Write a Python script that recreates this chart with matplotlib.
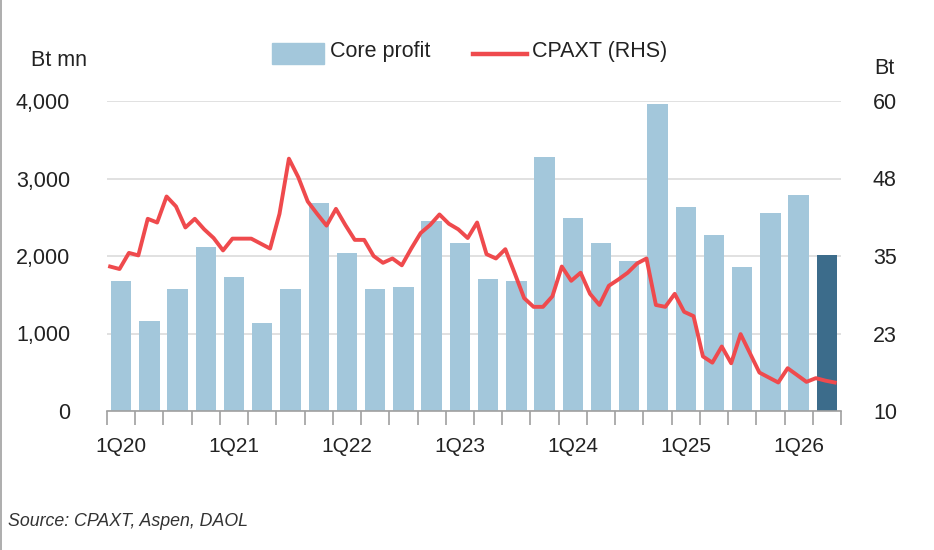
import matplotlib
matplotlib.use("Agg")
import matplotlib.pyplot as plt
from matplotlib.lines import Line2D
from matplotlib.patches import Rectangle
import numpy as np

plt.rcParams['font.family'] = ['Liberation Sans', 'DejaVu Sans']

quarters = ["1Q20", "2Q20", "3Q20", "4Q20", "1Q21", "2Q21", "3Q21", "4Q21",
            "1Q22", "2Q22", "3Q22", "4Q22", "1Q23", "2Q23", "3Q23", "4Q23",
            "1Q24", "2Q24", "3Q24", "4Q24", "1Q25", "2Q25", "3Q25", "4Q25",
            "1Q26", "2Q26"]
core_profit = [1680, 1160, 1575, 2115, 1730, 1135, 1575, 2685,
               2040, 1575, 1600, 2450, 2170, 1705, 1680, 3275,
               2490, 2170, 1935, 3960, 2630, 2270, 1860, 2555,
               2790, 2015]
# Monthly CPAXT share price (Bt), 3 points per quarter
cpaxt = [33.3, 32.9, 35.5, 35.1, 41.0, 40.4, 44.6, 43.0, 39.6, 41.0,
         39.3, 37.9, 35.9, 37.8, 37.8, 37.8, 37.0, 36.2, 41.8, 50.7,
         47.7, 43.8, 41.8, 39.9, 42.6, 40.0, 37.6, 37.6, 35.0, 33.9,
         34.6, 33.5, 36.2, 38.7, 40.0, 41.7, 40.2, 39.3, 37.9, 40.4,
         35.3, 34.6, 36.1, 32.2, 28.2, 26.8, 26.8, 28.5, 33.3, 31.0,
         32.3, 28.9, 27.1, 30.2, 31.2, 32.3, 33.8, 34.6, 27.1, 26.8,
         28.9, 26.0, 25.3, 18.8, 17.8, 20.4, 17.7, 22.4, 19.3, 16.2,
         15.4, 14.6, 16.9, 15.8, 14.7, 15.3, 14.9, 14.6]
left_ticks = [0, 1000, 2000, 3000, 4000]
right_ticks = [10, 22.5, 35, 47.5, 60]
right_labels = ["10", "23", "35", "48", "60"]
legend_labels = ["Core profit", "CPAXT (RHS)"]

light = "#A3C7DB"
dark = "#3C6C8B"
red = "#EF4A4D"
txt = "#222222"
FS = 15.5

W, H = 934, 550
fig = plt.figure(figsize=(W/100, H/100), dpi=100)
ax = fig.add_axes([107/W, 1-411/H, (841-107)/W, 310/H])
ax2 = ax.twinx()

x = np.arange(len(quarters))
colors = [light]*(len(quarters)-1) + [dark]
ax.bar(x, core_profit, width=0.72, color=colors, zorder=2)

xm = -0.39 + np.arange(len(cpaxt))/3.0
ax2.plot(xm, cpaxt, color=red, lw=2.8, zorder=3)

ax.set_xlim(-0.5, len(quarters)-0.5)
ax.set_ylim(0, 4000)
ax2.set_ylim(10, 60)

ax.set_yticks(left_ticks)
ax.set_yticklabels([f"{v:,}" for v in left_ticks])
ax2.set_yticks(right_ticks)
ax2.set_yticklabels(right_labels)

ax.yaxis.grid(True, color="#DCDCDC", lw=1.2, zorder=0)
ax.set_axisbelow(True)

for a in (ax, ax2):
    for s in ("top", "left", "right", "bottom"):
        a.spines[s].set_visible(False)
ax.spines["bottom"].set_visible(True)
ax.spines["bottom"].set_color("#A0A0A0")
ax.spines["bottom"].set_linewidth(1.2)

ax.set_xticks(x[::4])
ax.set_xticklabels(quarters[::4])
ax.set_xticks(np.arange(len(quarters)+1) - 0.5, minor=True)
ax.tick_params(axis="x", which="major", length=0, pad=19, labelsize=15, labelcolor=txt)
ax.tick_params(axis="x", which="minor", length=10, width=1.2, color="#A0A0A0", direction="out")
ax.tick_params(axis="y", length=0, pad=26.5, labelsize=FS, labelcolor=txt)
ax2.tick_params(axis="y", length=0, pad=23, labelsize=FS, labelcolor=txt)

fig.text(31/W, 1-61/H, "Bt mn", fontsize=FS, color=txt, va="center", ha="left")
fig.text(874/W, 1-68/H, "Bt", fontsize=FS, color=txt, va="center", ha="left")

# legend drawn manually
fig.add_artist(Rectangle((272/W, 1-64/H), 52/W, 21/H, color=light,
                         transform=fig.transFigure))
fig.text(330/W, 1-52/H, legend_labels[0], fontsize=FS, color=txt, va="center", ha="left")
fig.add_artist(Line2D([473/W, 527/W], [1-54/H, 1-54/H], color=red, lw=3.2,
                      transform=fig.transFigure))
fig.text(532/W, 1-52/H, legend_labels[1], fontsize=FS, color=txt, va="center", ha="left")

fig.text(8/W, 1-522/H, "Source: CPAXT, Aspen, DAOL", fontsize=12.8,
         style="italic", color="#333333", va="center", ha="left")

fig.add_artist(Line2D([0.6/W, 0.6/W], [0, 1], color="#A0A0A0", lw=1.2,
                      transform=fig.transFigure))

fig.savefig("out.png", dpi=100)
